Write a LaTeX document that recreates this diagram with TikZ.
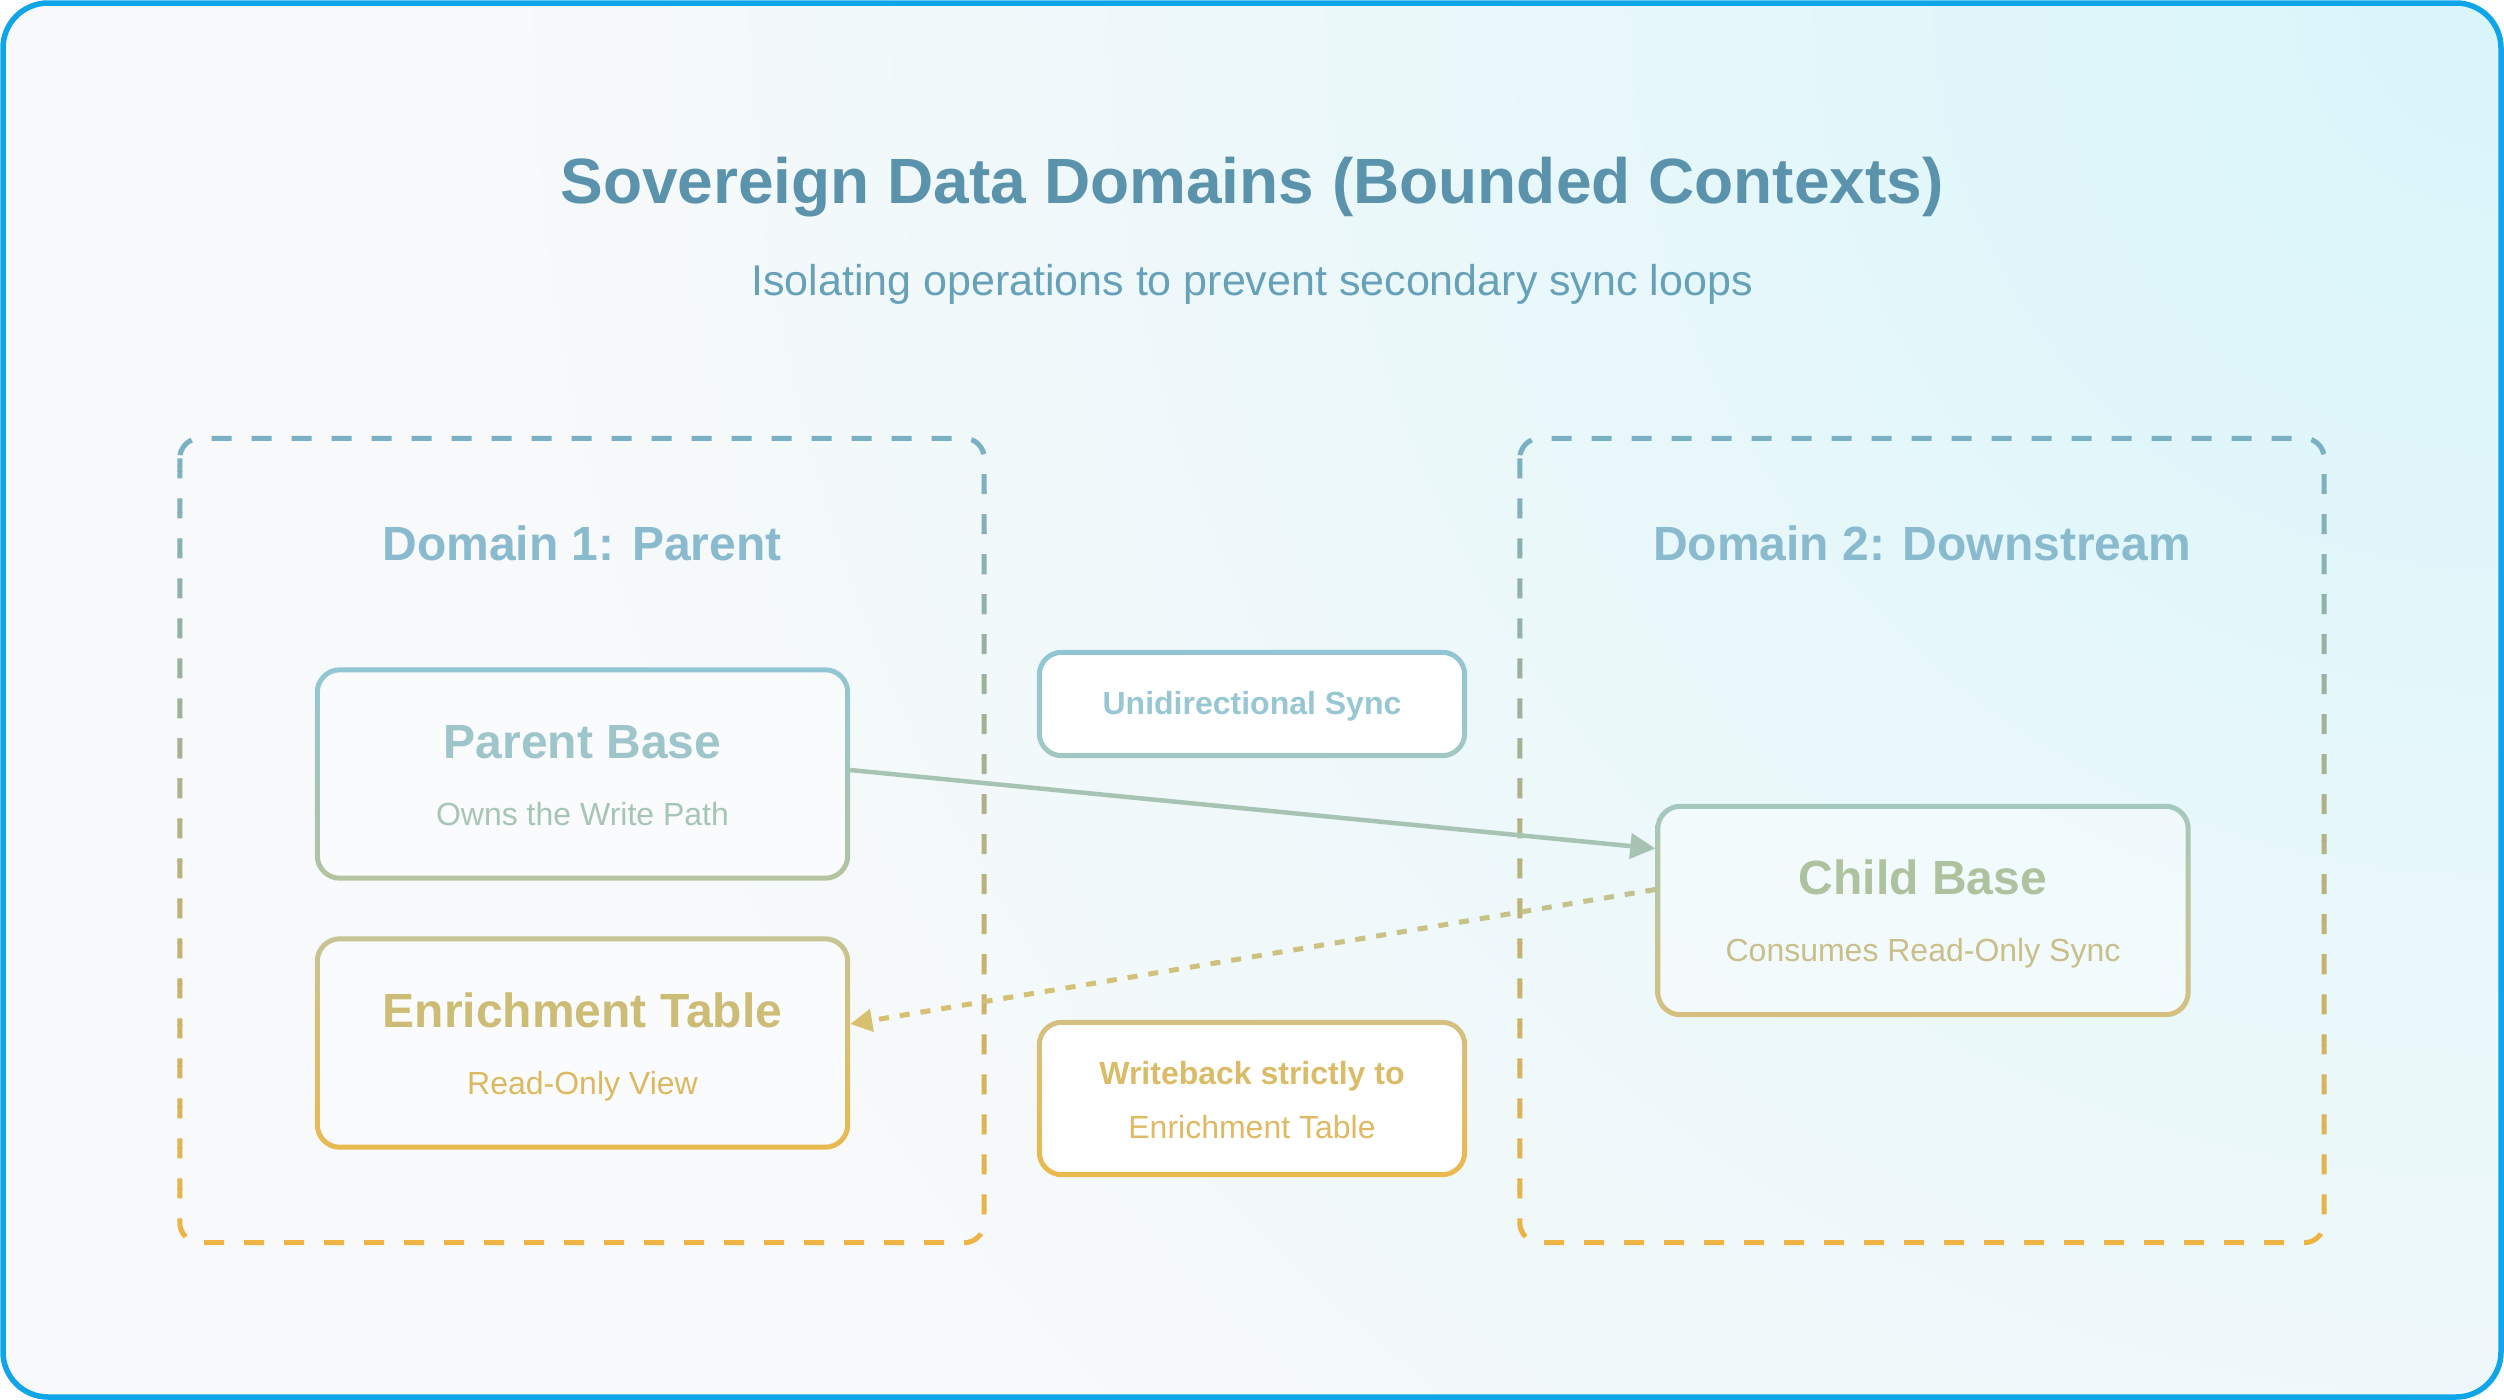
\documentclass[tikz,border=0pt]{standalone}
\usepackage{fontspec}
\setmainfont{Liberation Sans}
\usetikzlibrary{arrows.meta,calc}

% palette
\definecolor{frameC}{HTML}{0EA5E9}
\definecolor{bgA}{HTML}{D8F5FA}
\definecolor{bgB}{HTML}{EBF8FA}
\definecolor{bgC}{HTML}{F8F9FA}
\definecolor{titleC}{HTML}{5B93AD}
\definecolor{subC}{HTML}{67A1B9}
\definecolor{domTitleC}{HTML}{89BACD}
\definecolor{domTop}{HTML}{7AB0C4}
\definecolor{domBot}{HTML}{EDB444}
\definecolor{parentTop}{HTML}{92C5D5}
\definecolor{parentBot}{HTML}{B3C49F}
\definecolor{parentTitleC}{HTML}{9DC5CA}
\definecolor{parentSubC}{HTML}{A7C5B5}
\definecolor{enrichTop}{HTML}{C7C497}
\definecolor{enrichBot}{HTML}{E9B94F}
\definecolor{enrichTitleC}{HTML}{CDBC76}
\definecolor{enrichSubC}{HTML}{DCB961}
\definecolor{childTop}{HTML}{A3C8BE}
\definecolor{childBot}{HTML}{D6C07E}
\definecolor{childTitleC}{HTML}{AFC29F}
\definecolor{childSubC}{HTML}{C8BF8A}
\definecolor{uniTop}{HTML}{91C5D5}
\definecolor{uniBot}{HTML}{A1C7C3}
\definecolor{uniTextC}{HTML}{98C7D4}
\definecolor{wbTop}{HTML}{D3C183}
\definecolor{wbBot}{HTML}{EBB94D}
\definecolor{wbBoldC}{HTML}{DABB67}
\definecolor{wbTextC}{HTML}{DFB963}
\definecolor{syncC}{HTML}{A6C3B3}
\definecolor{backNear}{HTML}{C3C28F}
\definecolor{backFar}{HTML}{D8C06E}

% glow from the upper right corner; 25bp is the rim of the shaded circle
\pgfdeclareradialshading{bgglow}{\pgfpoint{0bp}{0bp}}{color(0bp)=(bgA); color(11bp)=(bgB); color(20bp)=(bgC); color(50bp)=(bgC)}

\newcommand\fsz[1]{\fontsize{#1pt}{#1pt}\selectfont}

% gradient outline of a rounded node: node, top colour, bottom colour
\newcommand\gradring[3]{%
  \shade[top color=#2, bottom color=#3, even odd rule, rounded corners=25pt]
    (#1.north west) rectangle (#1.south east)
    [rounded corners=20pt]
    ($(#1.north west)+(5,5)$) rectangle ($(#1.south east)+(-5,-5)$);}

\begin{document}
\begin{tikzpicture}[x=1pt,y=-1pt,
  domframe/.style={minimum width=804pt, minimum height=804pt, inner sep=0pt},
  domline/.style={line width=5pt, dash pattern=on 20pt off 20pt, rounded corners=20pt},
  cardbox/.style={minimum width=535pt, minimum height=213pt, inner sep=0pt,
    fill=white, fill opacity=0.4, rounded corners=25pt},
  tagbox/.style={minimum width=430pt, inner sep=0pt, fill=white, rounded corners=25pt},
  cardtitle/.style={anchor=base, font=\bfseries\fsz{48}},
  cardsub/.style={anchor=base, font=\fsz{32}},
  syncarrow/.style={line width=4.5pt, color=syncC, -{Triangle[length=25pt,width=25pt]}},
  backarrow/.style={line width=5pt, dash pattern=on 10pt off 11pt,
    -{Triangle[length=22pt,width=22pt]}},
]
\useasboundingbox (0,0) rectangle (2504,1400);
\fill[white] (0,0) rectangle (2504,1400);

% background glow
\begin{scope}
  \clip[rounded corners=45pt] (3,3) rectangle (2501,1397);
  \fill[bgC] (0,0) rectangle (2504,1400);
  \shade[shading=bgglow] (2504,0) circle (2600pt);
\end{scope}
\draw[line width=5.5pt, color=frameC, rounded corners=45pt] (3,3) rectangle (2501,1397);

% headings
\node[anchor=base, text=titleC, font=\bfseries\fsz{64}] (title) at (1252,203)
  {Sovereign Data Domains (Bounded Contexts)};
\node[anchor=base, text=subC, font=\fsz{43}] (subtitle) at (1252,295)
  {Isolating operations to prevent secondary sync loops};

% domain frames with a top-to-bottom colour blend on the dashes
\node[domframe] (dom1) at (582,840.5) {};
\node[domframe] (dom2) at (1922,840.5) {};
\foreach \i in {0,...,39}{
  \pgfmathtruncatemacro\p{round(100*\i/39)}
  \colorlet{stripc}{domBot!\p!domTop}
  \begin{scope}
    \clip (0,{430+\i*20.5}) rectangle (2504,{430+\i*20.5+21});
    \draw[domline, stripc] (dom1.north west) rectangle (dom1.south east);
    \draw[domline, stripc] (dom2.north west) rectangle (dom2.south east);
  \end{scope}
}
\node[anchor=base, text=domTitleC, font=\bfseries\fsz{48}] (dom1title) at (582,560) {Domain 1: Parent};
\node[anchor=base, text=domTitleC, font=\bfseries\fsz{48}] (dom2title) at (1922,560) {Domain 2: Downstream};

% bases and tables
\node[cardbox] (parent) at (582.5,774) {};
\gradring{parent}{parentTop}{parentBot}
\node[cardtitle, text=parentTitleC] (parentT) at ($(parent)+(0,-16)$) {Parent Base};
\node[cardsub, text=parentSubC] (parentS) at ($(parent)+(0,51)$) {Owns the Write Path};

\node[cardbox] (enrich) at (582.5,1043) {};
\gradring{enrich}{enrichTop}{enrichBot}
\node[cardtitle, text=enrichTitleC] (enrichT) at ($(enrich)+(0,-16)$) {Enrichment Table};
\node[cardsub, text=enrichSubC] (enrichS) at ($(enrich)+(0,51)$) {Read-Only View};

\node[cardbox] (child) at (1923,910.5) {};
\gradring{child}{childTop}{childBot}
\node[cardtitle, text=childTitleC] (childT) at ($(child)+(0,-16)$) {Child Base};
\node[cardsub, text=childSubC] (childS) at ($(child)+(0,51)$) {Consumes Read-Only Sync};

% flow labels
\node[tagbox, minimum height=108pt] (uni) at (1252,704) {};
\gradring{uni}{uniTop}{uniBot}
\node[anchor=base, text=uniTextC, font=\bfseries\fsz{32}] (uniT) at ($(uni)+(0,10)$) {Unidirectional Sync};

\node[tagbox, minimum height=157pt] (wb) at (1252,1098.5) {};
\gradring{wb}{wbTop}{wbBot}
\node[anchor=base, text=wbBoldC, font=\bfseries\fsz{32}] (wbT) at ($(wb)+(0,-14.5)$) {Writeback strictly to};
\node[anchor=base, text=wbTextC, font=\fsz{32}] (wbS) at ($(wb)+(0,39.5)$) {Enrichment Table};

% connectors
\draw[syncarrow] ($(parent.east)+(0,-4)$) -- ($(child.west)+(0,-62)$);
% writeback path, blended from the child end to the table end
\foreach \i in {0,...,23}{
  \pgfmathtruncatemacro\p{round(100*\i/23)}
  \colorlet{backc}{backNear!\p!backFar}
  \begin{scope}
    \clip ({830+\i*35},850) rectangle ({830+\i*35+36},1060);
    \draw[backarrow, backc] ($(child.west)+(0,-21)$) -- ($(enrich.east)+(0,-19)$);
  \end{scope}
}
\end{tikzpicture}
\end{document}
